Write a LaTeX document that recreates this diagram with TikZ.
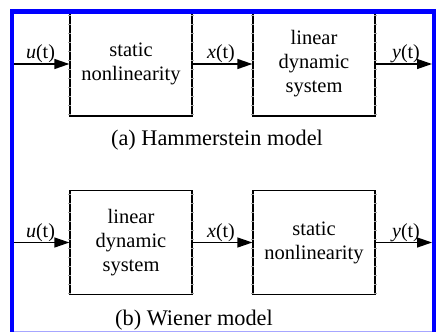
\documentclass[tikz,border=0pt]{standalone}
\usepackage{fontspec}
\setmainfont{Liberation Serif}
\usetikzlibrary{arrows.meta,calc}
\begin{document}
\begin{tikzpicture}[x=1pt,y=-1pt,
  blk/.style={draw=black,line width=1.3pt,minimum width=122pt,minimum height=104pt,inner sep=0pt,align=center,font=\fontsize{20.5}{24}\selectfont},
  sig/.style={line width=1.3pt,-{Triangle[length=15pt,width=10pt]}},
  lab/.style={anchor=base,inner sep=0pt,font=\fontsize{20}{24}\selectfont},
  captxt/.style={anchor=base,inner sep=0pt,font=\fontsize{22.3}{26}\selectfont},
  edgetick/.style={draw=black!35,line width=0.5pt}]
\useasboundingbox (0,0) rectangle (436,332);
\clip (0,0) rectangle (436,332);
% row (a)
\node[blk] (a1) at (131,64) {static\\nonlinearity};
\node[blk] (a2) at (314,64) {linear\\dynamic\\system};
% row (b)
\node[blk] (b1) at (131,242.5) {linear\\dynamic\\system};
\node[blk] (b2) at (314,242.5) {static\\nonlinearity};
% ticks on the vertical edges
\foreach \bx in {a1,a2,b1,b2}{
  \foreach \k in {0,...,11}{
    \draw[edgetick] ($(\bx.north west)+(-1.5,4+9*\k)$) -- ++(3,0);
    \draw[edgetick] ($(\bx.north east)+(-1.5,4+9*\k)$) -- ++(3,0);
  }
}
\coordinate (ina) at (14,64);
\coordinate (outa) at (432,64);
\coordinate (inb) at (14,242.5);
\coordinate (outb) at (432,242.5);
\draw[sig] (ina) -- (a1.west);
\draw[sig] (a1.east) -- (a2.west);
\draw[sig] (a2.east) -- (outa);
\draw[sig] (inb) -- (b1.west);
\draw[sig] (b1.east) -- (b2.west);
\draw[sig] (b2.east) -- (outb);
% labels
\node[lab] (lua) at (40.5,58) {\textit{u}(t)};
\node[lab] (lxa) at (221,58) {\textit{x}(t)};
\node[lab] (lya) at (406,58) {\textit{y}(t)};
\node[lab] (lub) at (40.5,237) {\textit{u}(t)};
\node[lab] (lxb) at (221,237) {\textit{x}(t)};
\node[lab] (lyb) at (406,237) {\textit{y}(t)};
\node[captxt] (capa) at (217,145) {(a) Hammerstein model};
\node[captxt] (capb) at (194,325.5) {(b) Wiener model};
% frame
\fill[blue] (10,9) rectangle (436,14);
\fill[blue] (10,9) rectangle (14,332);
\fill[blue] (432,9) rectangle (436,332);
\draw[blue!35,line width=1pt] (14,331.5) -- (432,331.5);
\end{tikzpicture}
\end{document}
